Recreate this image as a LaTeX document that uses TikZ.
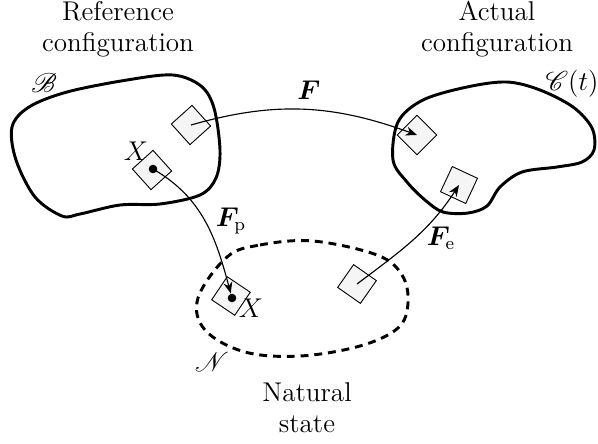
\documentclass[tikz,border=0pt]{standalone}
\usepackage{amsmath}
\usepackage{amssymb}
\usepackage{bm}
\usepackage{mathrsfs}
\usetikzlibrary{arrows.meta}

\begin{document}
\begin{tikzpicture}[x=0.4425pt,y=-0.4425pt,font=\fontsize{12}{13.6}\selectfont,
        elem/.style={rectangle,draw=black,fill=gray!8,minimum size=12.3pt,inner sep=0pt},
        dot/.style={circle,fill=black,minimum size=3.8pt,inner sep=0pt},
        map/.style={line width=0.5pt,-{Stealth[length=5pt,width=4pt,inset=1.6pt]}},
        body/.style={line width=1.3pt},
        lbl/.style={align=center}]
        \useasboundingbox (0,0) rectangle (598,443);

        \node[lbl] (tref) at (118,29) {Reference\\configuration};
        \node[lbl] (tact) at (497,29) {Actual\\configuration};
        \node[lbl] (tnat) at (307,408) {Natural\\state};

        % reference configuration
        \draw[body] plot[smooth cycle,tension=0.55] coordinates {(12,127) (29,107) (67,92) (127,80) (173,75)
                (201,86) (214,108) (220,150) (216,178) (200,195) (160,204) (120,205) (80,214) (62,216)
                (35,197) (16,160)};
        \node (lB) at (44,83) {$\mathscr{B}$};

        % actual configuration
        \draw[body] plot[smooth cycle,tension=0.55] coordinates {(393,160) (398,122) (423,100) (467,87)
                (507,82) (540,90) (573,107) (592,128) (594,150) (582,162) (557,167) (522,172) (500,187)
                (487,206) (468,213) (443,212) (425,200) (407,182)};
        \node (lC) at (572,84) {$\mathscr{C}(t)$};

        % natural state
        \draw[body,dash pattern=on 3.5pt off 2.6pt] plot[smooth cycle,tension=0.6] coordinates {(227,257)
                (260,245) (313,241) (377,255) (402,275) (408,303) (398,328) (360,346) (300,356) (245,352)
                (205,330) (198,298)};
        \node (lN) at (212,362) {$\mathscr{N}$};

        \node[elem,rotate=42] (b1) at (191,125) {};
        \node[elem,rotate=42] (b2) at (152,170) {};
        \node[elem,rotate=45] (c1) at (417,135) {};
        \node[elem,rotate=-25] (c2) at (459,185) {};
        \node[elem,rotate=56] (n1) at (231,296) {};
        \node[elem,rotate=55] (n2) at (357,284) {};

        \node[dot] (xb) at (153,169) {};
        \node[dot] (xn) at (232,298) {};
        \node (lXb) at (136,151) {$X$};
        \node (lXn) at (251,308) {$X$};

        \draw[map] (b1.center) to[out=16,in=160] (c1.center);
        \node (lF) at (309,90) {$\bm{F}$};
        \draw[map] (xb.center) to[out=-30,in=105] (xn);
        \node (lFp) at (231,221) {$\bm{F}_{\mathrm{p}}$};
        \draw[map] (n2.center) to[out=37,in=-123] (c2.center);
        \node (lFe) at (441,238) {$\bm{F}_{\mathrm{e}}$};
    \end{tikzpicture}
\end{document}
